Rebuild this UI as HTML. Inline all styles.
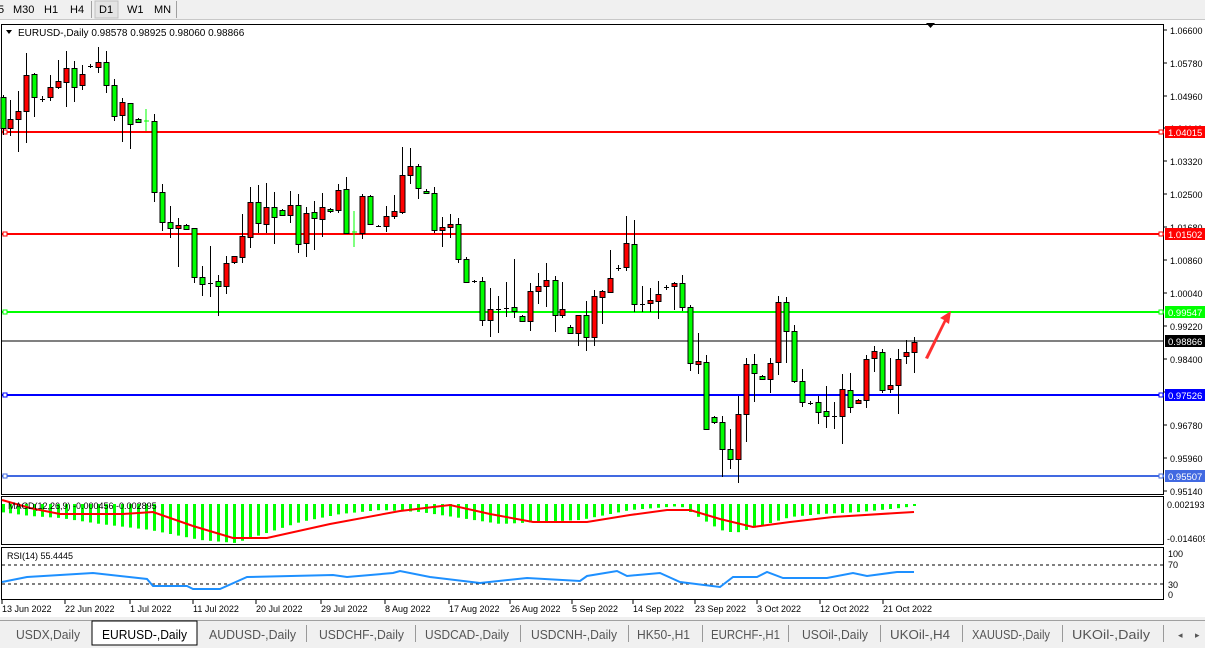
<!DOCTYPE html>
<html><head><meta charset="utf-8"><style>
body{margin:0;width:1205px;height:648px;overflow:hidden;background:#fff;font-family:"Liberation Sans",sans-serif;}
svg{position:absolute;left:0;top:0}
</style></head><body>
<svg id="s" width="1205" height="648" xmlns="http://www.w3.org/2000/svg" font-family="Liberation Sans, sans-serif" font-size="10">
<rect x="0" y="0" width="1205" height="20" fill="#f0f0f0"/>
<line x1="0" y1="19.5" x2="1205" y2="19.5" stroke="#c8c8c8"/>
<g font-size="11" fill="#000">
<text x="-2" y="13">5</text><text x="13" y="13">M30</text><text x="44" y="13">H1</text><text x="70" y="13">H4</text>
<rect x="95" y="1" width="23" height="17" fill="#e4e4e4" stroke="#c0c0c0"/><text x="99" y="13">D1</text>
<text x="127" y="13">W1</text><text x="154" y="13">MN</text>
</g>
<line x1="91.5" y1="1" x2="91.5" y2="18" stroke="#a0a0a0"/><line x1="176.5" y1="1" x2="176.5" y2="18" stroke="#a0a0a0"/>
<rect x="0" y="20" width="1205" height="600" fill="#fff"/>
<rect x="1.5" y="24.5" width="1162" height="470" fill="none" stroke="#000"/>
<rect x="1.5" y="496.5" width="1162" height="48" fill="none" stroke="#000"/>
<rect x="1.5" y="547.5" width="1162" height="52" fill="none" stroke="#000"/>
<g id="g"></g>
<text x="18" y="36" font-size="10">EURUSD-,Daily  0.98578 0.98925 0.98060 0.98866</text>
<path d="M6 30 L12 30 L9 34 Z" fill="#000"/>
<path d="M926 23 L935 23 L930.5 28 Z" fill="#000"/>
<text x="8" y="509" font-size="9">MACD(12,26,9) -0.000456 -0.002895</text>
<text x="7" y="559" font-size="9">RSI(14) 55.4445</text>
<rect x="0" y="617" width="1205" height="31" fill="#f0f0f0"/>
<line x1="0" y1="620.5" x2="1205" y2="620.5" stroke="#a0a0a0"/>
<rect x="92" y="621" width="105" height="24" fill="#fff" stroke="#000"/>
<g font-size="13" fill="#555" lengthAdjust="spacingAndGlyphs">
<text x="16" y="639" textLength="64" lengthAdjust="spacingAndGlyphs">USDX,Daily</text>
<text x="102" y="639" fill="#000" textLength="85" lengthAdjust="spacingAndGlyphs">EURUSD-,Daily</text>
<text x="209" y="639" textLength="87" lengthAdjust="spacingAndGlyphs">AUDUSD-,Daily</text>
<text x="319" y="639" textLength="85" lengthAdjust="spacingAndGlyphs">USDCHF-,Daily</text>
<text x="425" y="639" textLength="84" lengthAdjust="spacingAndGlyphs">USDCAD-,Daily</text>
<text x="531" y="639" textLength="86" lengthAdjust="spacingAndGlyphs">USDCNH-,Daily</text>
<text x="637" y="639" textLength="53" lengthAdjust="spacingAndGlyphs">HK50-,H1</text>
<text x="711" y="639" textLength="69" lengthAdjust="spacingAndGlyphs">EURCHF-,H1</text>
<text x="802" y="639" textLength="66" lengthAdjust="spacingAndGlyphs">USOil-,Daily</text>
<text x="890" y="639" textLength="60" lengthAdjust="spacingAndGlyphs">UKOil-,H4</text>
<text x="972" y="639" textLength="78" lengthAdjust="spacingAndGlyphs">XAUUSD-,Daily</text>
<text x="1072" y="639" textLength="78" lengthAdjust="spacingAndGlyphs">UKOil-,Daily</text>
<text x="1178" y="638" font-size="9">◂</text><text x="1195" y="638" font-size="9">▸</text>
</g>
<g stroke="#999">
<line x1="415.5" y1="625" x2="415.5" y2="642"/><line x1="520.5" y1="625" x2="520.5" y2="642"/><line x1="628.5" y1="625" x2="628.5" y2="642"/><line x1="702.5" y1="625" x2="702.5" y2="642"/><line x1="788.5" y1="625" x2="788.5" y2="642"/><line x1="880.5" y1="625" x2="880.5" y2="642"/><line x1="962.5" y1="625" x2="962.5" y2="642"/><line x1="1062.5" y1="625" x2="1062.5" y2="642"/><line x1="1163.5" y1="625" x2="1163.5" y2="642"/><line x1="306.5" y1="625" x2="306.5" y2="642"/>
</g>
</svg>
<script>
const g=document.getElementById('g');let h='';
const C=[[3,97,128,95,135,'g'],[10,119,128,100,136,'r'],[18,111,119,91,152,'r'],[26,75,111,53,143,'r'],[34,74,97,73,117,'g'],[42,99,99,96,102,'k'],[50,87,97,75,101,'r'],[58,81,87,60,89,'r'],[66,68,82,51,107,'r'],[74,68,87,61,102,'g'],[82,74,85,65,90,'r'],[90,66,66,64,68,'k'],[98,62,67,47,73,'r'],[106,62,85,51,93,'g'],[114,85,116,79,121,'g'],[122,102,115,98,142,'r'],[130,103,124,103,149,'g'],[138,119,122,118,123,'g'],[146,121,121,109,131,'l'],[154,121,192,114,202,'g'],[162,192,222,184,231,'g'],[170,222,228,206,238,'g'],[178,225,228,218,267,'r'],[186,225,229,224,230,'g'],[194,228,277,228,283,'g'],[202,277,284,266,296,'g'],[210,283,283,246,297,'k'],[218,281,286,275,316,'g'],[226,263,286,256,294,'r'],[234,256,262,256,264,'r'],[242,236,257,214,263,'r'],[250,202,237,187,248,'r'],[258,202,223,185,233,'g'],[266,207,224,183,233,'r'],[274,207,217,192,244,'g'],[282,210,215,209,216,'g'],[290,205,215,191,223,'r'],[298,205,244,194,253,'g'],[306,213,243,207,257,'r'],[314,212,218,201,250,'g'],[322,207,219,193,237,'r'],[330,209,211,208,213,'g'],[338,190,210,184,213,'r'],[346,189,233,177,233,'g'],[354,232,232,211,247,'l'],[362,196,233,194,239,'r'],[370,196,224,195,225,'g'],[378,226,226,225,227,'k'],[386,216,226,206,232,'r'],[394,211,216,195,219,'r'],[402,175,212,147,214,'r'],[410,166,175,148,184,'r'],[418,166,188,164,199,'g'],[426,191,193,189,194,'g'],[434,193,230,187,233,'g'],[442,227,230,217,247,'r'],[450,224,227,214,238,'r'],[458,224,259,218,263,'g'],[466,259,282,257,282,'g'],[474,281,281,280,283,'k'],[482,281,320,277,326,'g'],[490,309,320,288,337,'r'],[498,309,309,296,333,'k'],[506,308,308,282,317,'k'],[514,307,311,259,318,'g'],[522,316,321,315,322,'g'],[530,291,321,283,331,'r'],[538,286,291,273,304,'r'],[546,280,286,263,307,'r'],[555,280,315,276,332,'g'],[562,309,315,282,318,'r'],[570,327,333,325,334,'g'],[578,315,333,315,346,'r'],[586,315,337,301,351,'g'],[594,296,337,290,346,'r'],[602,291,297,290,324,'r'],[610,278,292,250,292,'r'],[618,268,268,265,271,'k'],[626,243,267,216,271,'r'],[634,244,304,220,312,'g'],[642,304,304,286,312,'k'],[650,300,303,288,312,'r'],[658,294,301,281,319,'r'],[666,287,287,285,290,'k'],[674,283,286,282,310,'r'],[682,283,307,275,311,'g'],[690,307,363,305,371,'g'],[698,361,364,333,374,'r'],[706,362,429,355,430,'g'],[714,417,422,416,424,'g'],[722,422,449,416,477,'g'],[730,449,459,429,469,'g'],[738,414,459,396,483,'r'],[746,364,414,358,442,'r'],[754,364,373,354,402,'g'],[762,376,379,375,380,'g'],[770,363,379,358,393,'r'],[778,302,362,296,375,'r'],[786,302,331,297,363,'g'],[794,331,381,325,383,'g'],[802,381,402,369,407,'g'],[810,403,403,401,405,'k'],[818,402,412,396,424,'g'],[826,411,416,386,428,'g'],[834,416,416,402,429,'k'],[842,389,416,374,444,'r'],[850,390,407,373,413,'g'],[858,400,403,399,404,'r'],[866,359,400,355,408,'r'],[874,351,358,346,372,'r'],[882,352,390,349,393,'g'],[890,385,389,358,393,'r'],[898,359,385,349,414,'r'],[906,352,356,340,364,'r'],[914,342,352,337,373,'r']];
const P=[['1.06600',30],['1.05780',63],['1.04960',96],['1.04140',128],['1.03320',161],['1.02500',194],['1.01680',227],['1.00860',260],['1.00040',293],['0.99220',326],['0.98400',359],['0.97580',392],['0.96780',425],['0.95960',458],['0.95140',491]];
P.forEach(p=>{h+=`<line x1="1164" y1="${p[1]}" x2="1167" y2="${p[1]}" stroke="#000"/><text x="1170" y="${p[1]+4}" font-size="9">${p[0]}</text>`});
h+=`<text x="1167" y="508" font-size="9">0.002193</text><text x="1167" y="542" font-size="9">-0.014609</text><text x="1168" y="557" font-size="9">100</text><text x="1168" y="568" font-size="9">70</text><text x="1168" y="588" font-size="9">30</text><text x="1168" y="598" font-size="9">0</text>`;
const L=[[132,'#ff0000','1.04015','#fff',2],[234,'#ff0000','1.01502','#fff',2],[312,'#00ff00','0.99547','#fff',2],[341,'#000','0.98866','#fff',1],[395,'#0000ff','0.97526','#fff',2],[476,'#4169e1','0.95507','#fff',2]];
L.forEach(l=>{h+=`<line x1="2" y1="${l[0]}" x2="1164" y2="${l[0]}" stroke="${l[1]}" stroke-width="${l[4]}"/>`;
if(l[4]==2){h+=`<rect x="3" y="${l[0]-2}" width="4" height="4" fill="#fff" stroke="${l[1]}"/><rect x="1159" y="${l[0]-2}" width="4" height="4" fill="#fff" stroke="${l[1]}"/>`;}
h+=`<rect x="1165" y="${l[0]-6}" width="40" height="12" fill="${l[1]}"/><text x="1168" y="${l[0]+4}" font-size="9.5" fill="${l[3]}">${l[2]}</text>`;});
C.forEach(c=>{const[x,t,b,wt,wb,k]=c;
if(k=='l'){h+=`<line x1="${x}" y1="${wt}" x2="${x}" y2="${wb}" stroke="#00ff00"/><line x1="${x-2}" y1="${t}" x2="${x+3}" y2="${t}" stroke="#00ff00"/>`;return;}
h+=`<line x1="${x+.5}" y1="${wt}" x2="${x+.5}" y2="${wb}" stroke="#000"/>`;
if(k=='k'||b-t<1){h+=`<line x1="${x-2}" y1="${t+.5}" x2="${x+3}" y2="${t+.5}" stroke="#000"/>`;}
else h+=`<rect x="${x-2}" y="${t+.5}" width="5" height="${b-t}" fill="${k=='g'?'#00ff00':'#ff0000'}" stroke="#000"/>`;});
h+=`<path d="M925 358 L944 320 L940 318 L951 311 L949 324 L946 322 L928 359 Z" fill="#ff3030"/>`;
const hb=[[0,512],[30,516],[60,518],[100,524],[150,530],[200,540],[235,543],[260,535],[300,522],[340,514],[380,510],[420,512],[460,518],[500,524],[540,522],[580,520],[600,516],[630,510],[680,506],[700,518],[720,530],[735,533],[760,526],[790,517],[820,514],[860,512],[900,508],[914,506]];
function interp(a,x){for(let i=0;i<a.length-1;i++){if(x>=a[i][0]&&x<=a[i+1][0]){const f=(x-a[i][0])/(a[i+1][0]-a[i][0]);return a[i][1]+f*(a[i+1][1]-a[i][1]);}}return a[a.length-1][1];}
C.forEach(c=>{const x=c[0];const y=interp(hb,x);h+=`<rect x="${x-1}" y="504" width="3" height="${Math.max(1,y-504)}" fill="#00ff00"/>`;});
const sg=[[2,500],[30,508],[60,514],[123,514],[153,512],[193,526],[233,538],[267,538],[330,524],[400,511],[450,505],[490,514],[533,522],[587,522],[630,515],[667,510],[690,510],[720,519],[753,527],[790,522],[833,517],[897,513],[914,512]];
h+=`<polyline points="${sg.map(p=>p.join(',')).join(' ')}" fill="none" stroke="#ff0000" stroke-width="2"/>`;
h+=`<line x1="2" y1="565" x2="1163" y2="565" stroke="#000" stroke-dasharray="3,3"/><line x1="2" y1="584" x2="1163" y2="584" stroke="#000" stroke-dasharray="3,3"/>`;
const rs=[[2,582],[27,577],[93,573],[147,579],[153,586],[187,586],[193,589],[220,589],[247,577],[333,575],[347,577],[393,573],[400,571],[430,577],[480,583],[527,578],[580,581],[587,576],[617,571],[627,576],[660,573],[680,582],[720,587],[733,577],[757,577],[767,572],[783,578],[827,578],[853,573],[867,576],[897,572],[914,572]];
h+=`<polyline points="${rs.map(p=>p.join(',')).join(' ')}" fill="none" stroke="#1e90ff" stroke-width="2"/>`;
const D=[['13 Jun 2022',2],['22 Jun 2022',65],['1 Jul 2022',130],['11 Jul 2022',193],['20 Jul 2022',256],['29 Jul 2022',321],['8 Aug 2022',385],['17 Aug 2022',449],['26 Aug 2022',510],['5 Sep 2022',572],['14 Sep 2022',633],['23 Sep 2022',695],['3 Oct 2022',757],['12 Oct 2022',820],['21 Oct 2022',883]];
D.forEach(d=>{h+=`<line x1="${d[1]}" y1="600" x2="${d[1]}" y2="604" stroke="#000"/><text x="${d[1]}" y="612" font-size="9">${d[0]}</text>`;});
g.innerHTML=h;
</script>
</body></html>
